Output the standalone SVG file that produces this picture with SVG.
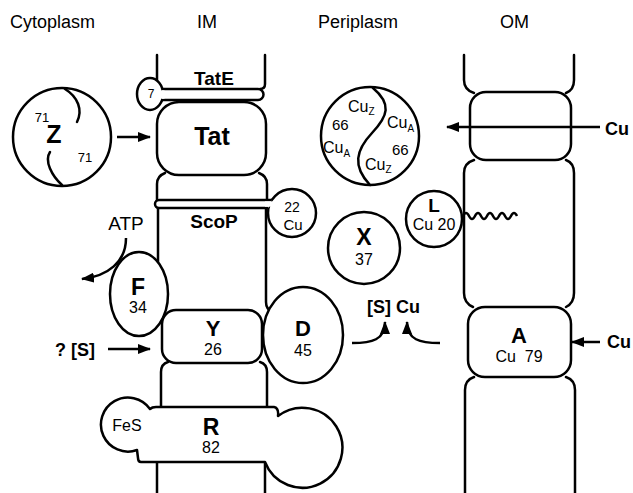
<svg xmlns="http://www.w3.org/2000/svg" width="633" height="493" viewBox="0 0 633 493">
<style>
.t{font-family:"Liberation Sans",Arial,Helvetica,sans-serif;fill:#000}
.b{font-weight:bold}
.m{text-anchor:middle}
.s{stroke:#000;stroke-width:2.5;fill:none;stroke-linecap:round;stroke-linejoin:round}
.w{stroke:#000;stroke-width:2.5;fill:#fff;stroke-linejoin:round}
.c{stroke:#000;stroke-width:2.5;fill:none}
</style>
<defs>
<marker id="ah" viewBox="0 0 13 10" refX="12" refY="5" markerWidth="13" markerHeight="10" markerUnits="userSpaceOnUse" orient="auto"><path d="M0,0 L13,5 L0,10 Z" fill="#000"/></marker>
</defs>
<rect width="633" height="493" fill="#fff"/>

<g id="titles" class="t" font-size="18">
<text x="10" y="28">Cytoplasm</text>
<text x="197" y="28">IM</text>
<text x="318" y="28">Periplasm</text>
<text x="500" y="28">OM</text>
</g>

<g id="IM">
<path class="s" d="M157,55 V88"/>
<path class="s" d="M265,55 V84 Q265,89 260,89"/>
<path class="s" d="M157,200 V184 Q157,176 165,173"/>
<path class="s" d="M267,200 V184 Q267,176 259,173"/>
<path class="s" d="M158,208 V300"/>
<path class="s" d="M266,208 V302 Q266,309 272,312"/>
<path class="s" d="M161,407 V372 Q161,364 168,362"/>
<path class="s" d="M267,407 V372 Q267,364 260,362"/>
<path class="s" d="M157,460 V493"/>
<path class="s" d="M265,460 V493"/>
</g>

<g id="OM">
<path class="s" d="M464,55 V80 Q464,90 474,93"/>
<path class="s" d="M574,55 V80 Q574,90 566,93"/>
<path class="s" d="M474,160 Q464,163 464,173 V293 Q464,303 473,307"/>
<path class="s" d="M566,160 Q574,163 574,173 V293 Q574,303 566,307"/>
<path class="s" d="M474,377 Q465,380 465,390 V493"/>
<path class="s" d="M566,377 Q575,380 575,390 V493"/>
<rect id="OM-channel" class="w" x="470" y="92" width="101" height="68" rx="16"/>
</g>

<g id="TatE">
<ellipse class="w" cx="150" cy="94" rx="13" ry="16"/>
<path class="w" d="M162,89 H258 A5.5,5.5 0 0 1 258,100 H162"/>
<rect x="158.5" y="90.4" width="6" height="8.3" fill="#fff"/>
<text class="t b m" x="214" y="85" font-size="19">TatE</text>
<text class="t m" x="151" y="98" font-size="12">7</text>
</g>

<g id="Tat">
<rect class="w" x="157" y="102" width="109" height="73" rx="22"/>
<text class="t b m" x="212" y="145" font-size="25">Tat</text>
</g>

<g id="ScoP">
<circle class="w" cx="292" cy="213" r="24"/>
<path class="w" d="M271.8,200 H159 A4,4 0 0 0 159,208 H268.5"/>
<rect x="265" y="201.4" width="9" height="5.3" fill="#fff"/>
<text class="t b m" x="214" y="228" font-size="19">ScoP</text>
<text class="t m" x="292" y="212" font-size="14">22</text>
<text class="t m" x="293" y="230" font-size="15">Cu</text>
</g>

<g id="Z">
<circle class="w" cx="62" cy="137" r="49"/>
<path class="s" d="M65,89 C78,97 83,110 77,122"/>
<path class="s" d="M50,152 C44,161 52,176 62,185"/>
<text class="t m" x="42" y="122" font-size="13">71</text>
<text class="t b m" x="54" y="143" font-size="25">Z</text>
<text class="t m" x="85" y="162" font-size="13">71</text>
</g>

<g id="NosZ">
<circle class="w" cx="370" cy="136" r="49"/>
<path class="s" d="M373,88 C392,104 388,116 372,133 C356,150 352,166 370,185"/>
<text class="t" x="348" y="112" font-size="16">Cu<tspan font-size="10" dy="3">Z</tspan></text>
<text class="t" x="332" y="130" font-size="15">66</text>
<text class="t" x="387" y="128" font-size="16">Cu<tspan font-size="10" dy="4">A</tspan></text>
<text class="t" x="323" y="153" font-size="16">Cu<tspan font-size="10" dy="4">A</tspan></text>
<text class="t" x="392" y="155" font-size="15">66</text>
<text class="t" x="365" y="170" font-size="16">Cu<tspan font-size="10" dy="3">Z</tspan></text>
</g>

<g id="L">
<circle class="w" cx="434" cy="219" r="28"/>
<text class="t b m" x="434" y="212" font-size="19">L</text>
<text class="t m" x="434" y="230" font-size="16">Cu 20</text>
</g>

<g id="X">
<circle class="w" cx="364" cy="248" r="36"/>
<text class="t b m" x="364" y="245" font-size="23">X</text>
<text class="t m" x="364" y="265" font-size="16">37</text>
</g>

<g id="F">
<ellipse class="w" cx="139" cy="294" rx="29" ry="42"/>
<text class="t b m" x="138" y="295" font-size="23">F</text>
<text class="t m" x="138" y="313" font-size="16">34</text>
</g>

<g id="Y">
<rect class="w" x="162" y="310" width="100" height="53" rx="14"/>
<text class="t b m" x="213" y="336" font-size="22">Y</text>
<text class="t m" x="213" y="355" font-size="16">26</text>
</g>

<g id="D">
<ellipse class="w" cx="303" cy="335" rx="40" ry="48"/>
<text class="t b m" x="303" y="336" font-size="22">D</text>
<text class="t m" x="303" y="356" font-size="16">45</text>
</g>

<g id="R">
<path class="w" d="M150,409 Q152,407 156,407 H274 Q279,408 278,416 A40,40 0 1 1 265,462 H141 Q138,462 138,458 L137,450 A27,27 0 1 1 150,409 Z"/>
<text class="t b m" x="211" y="435" font-size="23">R</text>
<text class="t m" x="211" y="453" font-size="16">82</text>
<text class="t m" x="127" y="431" font-size="16">FeS</text>
</g>

<g id="A">
<rect class="w" x="468" y="307" width="103" height="70" rx="17"/>
<text class="t b m" x="519" y="343" font-size="22">A</text>
<text class="t m" x="519" y="362" font-size="16" xml:space="preserve">Cu  79</text>
</g>

<g id="labels" class="t b" font-size="18">
<text x="605" y="135">Cu</text>
<text x="607" y="348">Cu</text>
<text x="55" y="356">? [S]</text>
<text x="367" y="313">[S] Cu</text>
<text class="t" x="126" y="230" font-size="19" font-weight="normal" text-anchor="middle">ATP</text>
</g>

<g id="connectors">
<path class="c" d="M117,137 H150" marker-end="url(#ah)"/>
<path class="c" d="M600,127 H447" marker-end="url(#ah)"/>
<path class="c" d="M600,342 H572" marker-end="url(#ah)"/>
<path class="c" d="M108,349 H150" marker-end="url(#ah)"/>
<path class="c" d="M126,238 C126,262 108,276 82,279" marker-end="url(#ah)"/>
<path class="c" d="M352,343 C372,343 385,340 385,322" marker-end="url(#ah)"/>
<path class="c" d="M440,343 C420,343 407,340 407,322" marker-end="url(#ah)"/>
<path class="c" d="M463,216 Q466,210 469,216 T475,216 T481,216 T487,216 T493,216 T499,216 T505,216 T511,216 T517,216"/>
</g>
</svg>
